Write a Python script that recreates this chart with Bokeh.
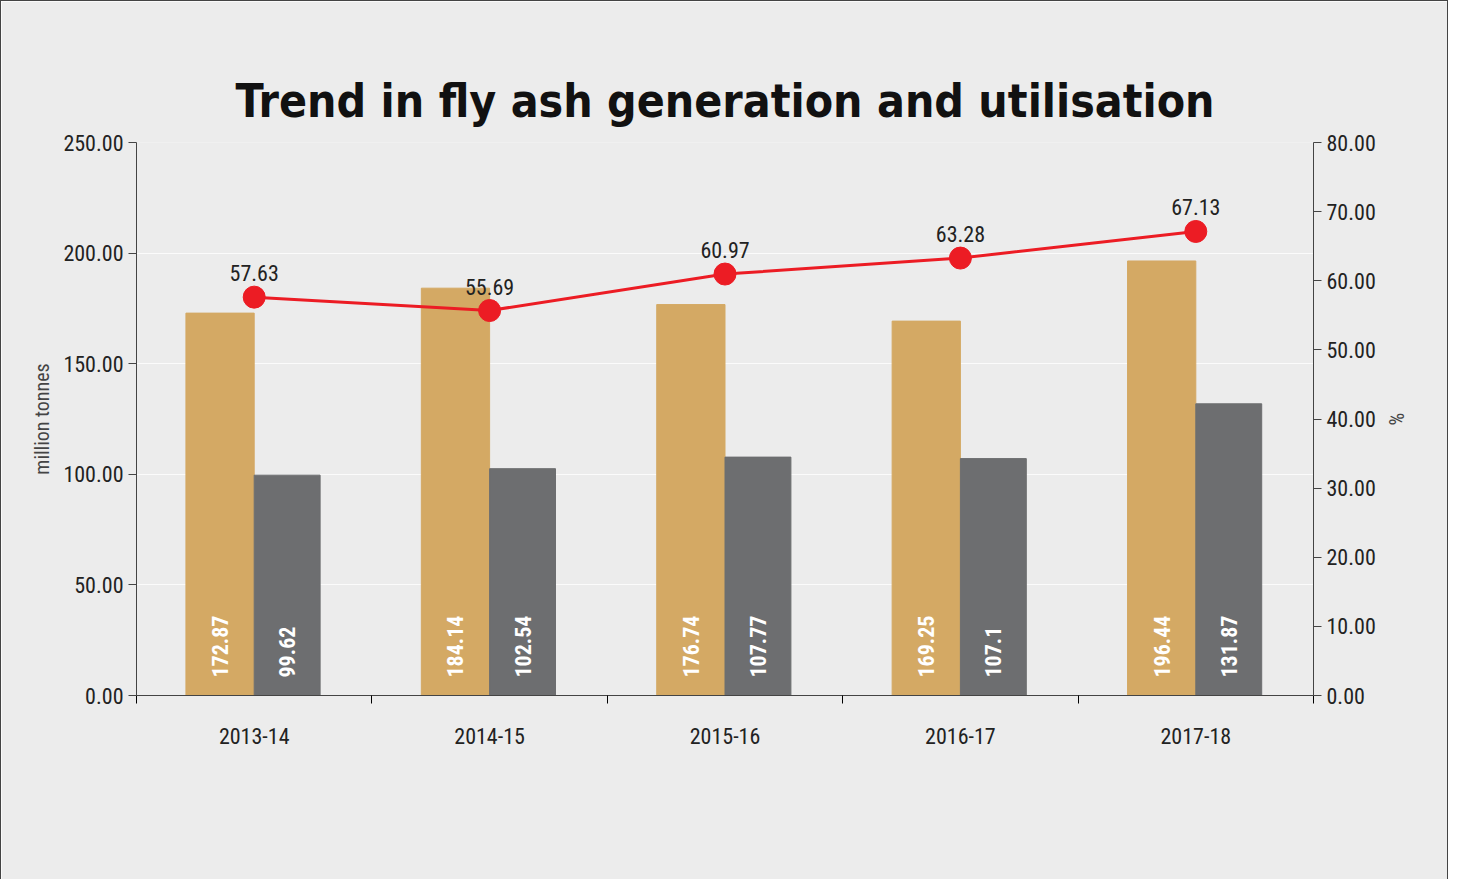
from bokeh.plotting import figure
from bokeh.models import Range1d, LinearAxis, FixedTicker, ColumnDataSource, Legend, LegendItem, NumeralTickFormatter
from bokeh.core.properties import value
from bokeh.embed import file_html
from bokeh.resources import INLINE
import math

years = ["2013-14", "2014-15", "2015-16", "2016-17", "2017-18"]
generation = [172.87, 184.14, 176.74, 169.25, 196.44]
utilisation = [99.62, 102.54, 107.77, 107.1, 131.87]
pct = [57.63, 55.69, 60.97, 63.28, 67.13]
gen_labels = ["172.87", "184.14", "176.74", "169.25", "196.44"]
util_labels = ["99.62", "102.54", "107.77", "107.1", "131.87"]
pct_labels = ["57.63", "55.69", "60.97", "63.28", "67.13"]

F = "Roboto Condensed, DejaVu Sans Condensed, Roboto"
TF = "DejaVu Sans Condensed, Roboto"
xs = list(range(len(years)))
p = figure(frame_width=1177, frame_height=553, output_backend="svg", toolbar_location=None,
           x_range=Range1d(-0.5, 4.5), y_range=Range1d(0, 250),
           min_border_left=135, min_border_top=141, min_border_right=134, min_border_bottom=170)
p.styles = {"border": "1.5px solid #444"}
p.background_fill_color = "#ececec"
p.border_fill_color = "#ececec"
p.outline_line_color = None
p.title.text = "Trend in fly ash generation and utilisation"
p.title.align = "center"
p.title.text_font = TF
p.title.text_font_size = "46px"
p.title.text_font_style = "bold"
p.title.text_color = "#111"
p.title.standoff = 30

p.extra_y_ranges = {"pct": Range1d(0, 80)}

src = ColumnDataSource(dict(xg=[x - 0.145 for x in xs], xu=[x + 0.14 for x in xs], x=xs,
                            gen=generation, util=utilisation, pct=pct,
                            gl=gen_labels, ul=util_labels, pl=pct_labels, zero=[0]*5))
rg = p.vbar(x="xg", top="gen", width=0.29, color="#d4a964", source=src)
ru = p.vbar(x="xu", top="util", width=0.28, color="#6d6e70", source=src)
for col, lab in (("xg", "gl"), ("xu", "ul")):
    p.text(x=col, y="zero", text=lab, source=src, angle=math.pi/2, text_align="left",
           text_baseline="middle", y_offset=-18, text_color="white", text_font=value(F),
           text_font_size="22px", text_font_style="bold")
rl = p.line(x="x", y="pct", source=src, y_range_name="pct", color="#ec1c24", line_width=3)
rs = p.scatter(x="x", y="pct", source=src, y_range_name="pct", color="#ec1c24", size=22)
p.text(x="x", y="pct", text="pl", source=src, y_range_name="pct", text_align="center",
       text_baseline="bottom", y_offset=-16, text_font=value(F), text_font_size="22px", text_color="#222")

p.xgrid.visible = False
p.ygrid.grid_line_color = "white"
p.ygrid.grid_line_alpha = 0.8

xa = p.xaxis[0]
xa.ticker = FixedTicker(ticks=xs, minor_ticks=[-0.5, 0.5, 1.5, 2.5, 3.5, 4.5])
xa.major_label_overrides = {i: y for i, y in enumerate(years)}
xa.minor_tick_out = 8
xa.minor_tick_in = 0
xa.major_label_standoff = 24

ya = p.yaxis[0]
ya.ticker = FixedTicker(ticks=[0, 50, 100, 150, 200, 250])
ya.axis_label = "million tonnes"
ar = LinearAxis(y_range_name="pct", ticker=FixedTicker(ticks=list(range(0, 81, 10))),
                axis_label="%")
p.add_layout(ar, "right")
for a in (xa, ya, ar):
    if a is not xa:
        a.formatter = NumeralTickFormatter(format="0.00")
        a.major_tick_line_color = "#444"
    else:
        a.major_tick_line_color = None
    a.axis_line_color = "#444"
    a.major_tick_out = 8
    a.major_tick_in = 0
    a.major_label_text_font = F
    a.major_label_text_font_size = "22px"
    a.major_label_text_color = "#222"
    a.axis_label_text_font = F
    a.axis_label_text_font_size = "20px"
    a.axis_label_text_font_style = "normal"
ya.axis_label_standoff = 6

leg = Legend(items=[LegendItem(label="Fly ash generation", renderers=[rg]),
                    LegendItem(label="Fly ash utilisation", renderers=[ru]),
                    LegendItem(label="% Utilisation", renderers=[rl, rs])],
             orientation="horizontal", location="center", background_fill_alpha=0,
             border_line_color=None, label_text_font=F, label_text_font_size="22px",
             glyph_width=66, glyph_height=24, spacing=22, label_standoff=14,
             title="Source: CEA", title_location="left", title_standoff=460,
             title_text_font=F, title_text_font_size="26px", title_text_font_style="italic",
             title_text_color="#222", margin=0, padding=0)
p.add_layout(leg, "below")

open("out.html", "w").write(file_html(p, INLINE))
